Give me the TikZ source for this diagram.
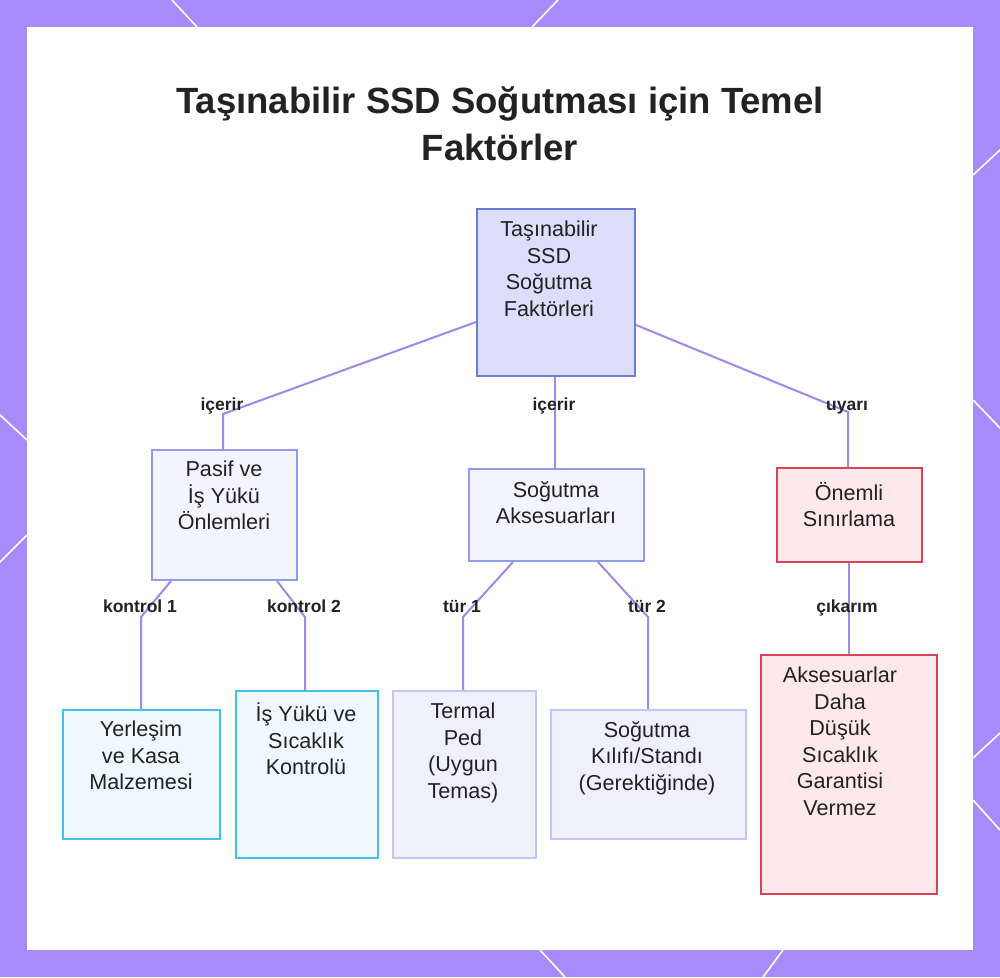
\documentclass[tikz,border=0pt]{standalone}
\usepackage{fontspec}
\setmainfont{Liberation Sans}
\definecolor{bgpurple}{HTML}{A78BFA}
\definecolor{conn}{HTML}{A187E8}
\definecolor{txt}{HTML}{222222}
\definecolor{rootfill}{HTML}{DCDEFC}
\definecolor{rootdraw}{HTML}{6A7BD8}
\definecolor{midfill}{HTML}{F3F4FE}
\definecolor{middraw}{HTML}{8E9CEA}
\definecolor{redfill}{HTML}{FDE8EB}
\definecolor{reddraw}{HTML}{D44556}
\definecolor{cyanfill}{HTML}{EEF8FE}
\definecolor{cyandraw}{HTML}{45C0E6}
\definecolor{palefill}{HTML}{F0F0FC}
\definecolor{paledraw}{HTML}{C3C6F4}
\tikzset{
  box/.style={draw, line width=2pt, anchor=north west, inner sep=0pt},
  rootbox/.style={box, fill=rootfill, draw=rootdraw},
  midbox/.style={box, fill=midfill, draw=middraw},
  redbox/.style={box, fill=redfill, draw=reddraw},
  cyanbox/.style={box, fill=cyanfill, draw=cyandraw},
  palebox/.style={box, fill=palefill, draw=paledraw},
  btext/.style={anchor=north, align=center, inner sep=0pt, text=txt, font=\fontsize{21.6}{26.5}\selectfont},
  conline/.style={draw=conn, line width=2pt},
  lbl/.style={anchor=base, inner sep=0pt, text=txt, font=\bfseries\fontsize{17.5}{20}\selectfont},
  deco/.style={draw=white, line width=1.6pt}
}
\begin{document}
\begin{tikzpicture}[x=1pt,y=-1pt]
\useasboundingbox (0,0) rectangle (1000,977);
\fill[bgpurple] (0,0) rectangle (1000,977);
% decorative lines in the border
\draw[deco] (172,0) -- (197,27);
\draw[deco] (532,27) -- (558,0);
\draw[deco] (973,175) -- (1000,150);
\draw[deco] (973,400) -- (1000,428);
\draw[deco] (973,758) -- (1000,733);
\draw[deco] (973,800) -- (1000,830);
\draw[deco] (763,977) -- (783,950);
\draw[deco] (540,950) -- (565,977);
\draw[deco] (0,415) -- (27,440);
\draw[deco] (0,562) -- (27,535);
\fill[white] (27,27) rectangle (973,950);
% title
\node[anchor=base, inner sep=0pt, text=txt, font=\bfseries\fontsize{36.5}{47}\selectfont, align=center] (title) at (500,160) {Taşınabilir SSD Soğutması için Temel\\Faktörler};
% boxes
\node[rootbox, minimum width=158pt, minimum height=167pt] (root) at (476,208) {};
\node[midbox, minimum width=145pt, minimum height=130pt] (pasif) at (151,449) {};
\node[midbox, minimum width=175pt, minimum height=92pt] (aks) at (468,468) {};
\node[redbox, minimum width=145pt, minimum height=94pt] (onemli) at (776,467) {};
\node[cyanbox, minimum width=157pt, minimum height=129pt] (yer) at (62,709) {};
\node[cyanbox, minimum width=142pt, minimum height=167pt] (isyuku) at (235,690) {};
\node[palebox, minimum width=143pt, minimum height=167pt] (termal) at (392,690) {};
\node[palebox, minimum width=195pt, minimum height=129pt] (kilif) at (550,709) {};
\node[redbox, minimum width=176pt, minimum height=239pt] (garanti) at (760,654) {};
% box texts
\node[btext] (troot) at (549,221) {Taşınabilir\\SSD\\Soğutma\\Faktörleri};
\node[btext] (tpasif) at (224,461) {Pasif ve\\İş Yükü\\Önlemleri};
\node[btext] (taks) at (556,481) {Soğutma\\Aksesuarları};
\node[btext] (tonemli) at (849,482) {Önemli\\Sınırlama};
\node[btext] (tyer) at (141,721) {Yerleşim\\ve Kasa\\Malzemesi};
\node[btext] (tisyuku) at (306,703) {İş Yükü ve\\Sıcaklık\\Kontrolü};
\node[btext] (ttermal) at (463,703) {Termal\\Ped\\(Uygun\\Temas)};
\node[btext] (tkilif) at (647,721) {Soğutma\\Kılıfı/Standı\\(Gerektiğinde)};
\node[btext] (tgaranti) at (840,667) {Aksesuarlar\\Daha\\Düşük\\Sıcaklık\\Garantisi\\Vermez};
% connector bend points
\coordinate (b1) at (223,414);
\coordinate (b2) at (848,412);
\coordinate (b3) at (141,617);
\coordinate (b4) at (305,617);
\coordinate (b5) at (463,617);
\coordinate (b6) at (648,617);
% connectors
\draw[conline] (root.west |- 0,322) -- (b1) -- (b1 |- pasif.north);
\draw[conline] (root.south -| 555,0) -- (aks.north -| 555,0);
\draw[conline] (root.east |- 0,325) -- (b2) -- (b2 |- onemli.north);
\draw[conline] (pasif.south -| 171,0) -- (b3) -- (b3 |- yer.north);
\draw[conline] (pasif.south -| 277,0) -- (b4) -- (b4 |- isyuku.north);
\draw[conline] (aks.south -| 513,0) -- (b5) -- (b5 |- termal.north);
\draw[conline] (aks.south -| 598,0) -- (b6) -- (b6 |- kilif.north);
\draw[conline] (onemli.south -| 849,0) -- (garanti.north -| 849,0);
% connector labels
\node[lbl] (l1) at (222,410) {içerir};
\node[lbl] (l2) at (554,410) {içerir};
\node[lbl] (l3) at (847,410) {uyarı};
\node[lbl] (l4) at (140,612) {kontrol 1};
\node[lbl] (l5) at (304,612) {kontrol 2};
\node[lbl] (l6) at (462,612) {tür 1};
\node[lbl] (l7) at (647,612) {tür 2};
\node[lbl] (l8) at (847,612) {çıkarım};
\end{tikzpicture}
\end{document}
